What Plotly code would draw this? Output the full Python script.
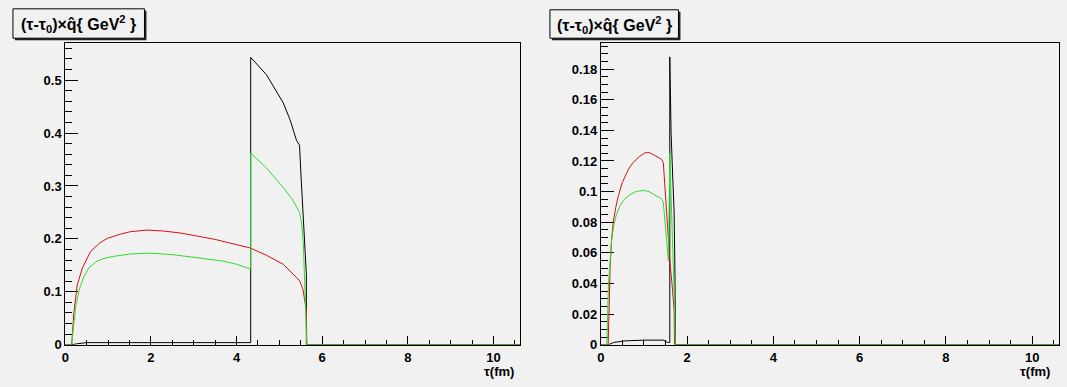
import plotly.graph_objects as go

W, H = 1067, 387

# ---------------- data ----------------
# Left panel
L_black_tau = [0, 0.15, 0.3, 0.5, 1.0, 2.0, 3.0, 4.0, 4.33, 4.33, 4.7, 5.09, 5.25, 5.4, 5.47, 5.51, 5.55, 5.59, 5.63, 5.63, 10.62]
L_black_val = [0, 0, 0.002, 0.004, 0.004, 0.004, 0.004, 0.004, 0.004, 0.543, 0.51, 0.457, 0.425, 0.386, 0.377, 0.312, 0.25, 0.195, 0.133, 0, 0]

L_red_tau = [0, 0.15, 0.2, 0.25, 0.28, 0.4, 0.52, 0.59, 0.8, 0.98, 1.29, 1.52, 1.91, 2.3, 2.7, 3.07, 3.5, 3.85, 4.31, 4.7, 5.09, 5.4, 5.47, 5.55, 5.63, 5.64, 10.62]
L_red_val = [0, 0, 0.06, 0.1, 0.113, 0.145, 0.165, 0.176, 0.192, 0.201, 0.209, 0.2136, 0.2167, 0.2148, 0.211, 0.206, 0.199, 0.192, 0.183, 0.169, 0.152, 0.127, 0.121, 0.105, 0.065, 0, 0]

L_green_tau = [0, 0.15, 0.2, 0.25, 0.33, 0.43, 0.55, 0.74, 0.95, 1.13, 1.52, 1.99, 2.53, 3.07, 3.69, 4.0, 4.33, 4.33, 4.7, 5.09, 5.3, 5.47, 5.52, 5.56, 5.6, 5.64, 10.62]
L_green_val = [0, 0, 0.04, 0.075, 0.105, 0.128, 0.145, 0.158, 0.164, 0.167, 0.1715, 0.173, 0.170, 0.165, 0.158, 0.152, 0.143, 0.362, 0.334, 0.297, 0.275, 0.25, 0.23, 0.19, 0.11, 0, 0]

# Right panel
R_black_tau = [0, 0.18, 0.3, 0.56, 1.0, 1.45, 1.55, 1.6, 1.6, 1.63, 1.67, 1.7, 1.72, 1.73, 10.62]
R_black_val = [0, 0, 0.0015, 0.0025, 0.003, 0.003, 0.0015, 0.0015, 0.188, 0.138, 0.108, 0.087, 0.046, 0, 0]

R_red_tau = [0, 0.17, 0.2, 0.215, 0.25, 0.29, 0.35, 0.41, 0.5, 0.56, 0.65, 0.75, 0.9, 1.02, 1.12, 1.21, 1.3, 1.41, 1.45, 1.5, 1.55, 1.6, 1.65, 1.7, 1.71, 10.62]
R_red_val = [0, 0, 0.03, 0.05, 0.068, 0.08, 0.09, 0.0975, 0.106, 0.110, 0.115, 0.119, 0.123, 0.1253, 0.1255, 0.1243, 0.123, 0.121, 0.119, 0.095, 0.075, 0.055, 0.04, 0.023, 0, 0]

R_green_tau = [0, 0.14, 0.18, 0.25, 0.3, 0.36, 0.45, 0.56, 0.68, 0.79, 0.9, 1.02, 1.12, 1.21, 1.3, 1.41, 1.45, 1.52, 1.57, 1.6, 1.64, 1.67, 1.7, 1.73, 10.62]
R_green_val = [0, 0, 0.040, 0.0676, 0.078, 0.0847, 0.091, 0.0954, 0.098, 0.0997, 0.1005, 0.1007, 0.100, 0.0983, 0.097, 0.0954, 0.093, 0.0697, 0.0548, 0.125, 0.095, 0.061, 0.034, 0, 0]

title_text = "(τ-τ<sub>0</sub>)×q̂{ GeV<sup>2</sup> }"
x_title = "τ(fm)"

# ---------------- styling ----------------
BG = "#f1f1f1"
BLACK = "#000000"
RED = "#d41010"
GREEN = "#2edc2e"
FONT = "Liberation Sans"


def px(x):
    return x / W


def py(y):
    return 1 - y / H


fig = go.Figure()

series = [
    ("x", "y", L_black_tau, L_black_val, BLACK),
    ("x", "y", L_red_tau, L_red_val, RED),
    ("x", "y", L_green_tau, L_green_val, GREEN),
    ("x2", "y2", R_black_tau, R_black_val, BLACK),
    ("x2", "y2", R_red_tau, R_red_val, RED),
    ("x2", "y2", R_green_tau, R_green_val, GREEN),
]
for xa, ya, xs, ys, c in series:
    fig.add_trace(go.Scatter(x=xs, y=ys, xaxis=xa, yaxis=ya, mode="lines",
                             line=dict(color=c, width=1), showlegend=False,
                             hoverinfo="skip"))

tickfont = dict(family=FONT, size=13, color="black", weight="bold")


def xaxis(dom, anchor):
    return dict(domain=dom, anchor=anchor, range=[0, 10.62], dtick=2, tick0=0,
                ticks="inside", ticklen=9, tickcolor="black", tickwidth=1,
                minor=dict(dtick=0.5, ticks="inside", ticklen=5, tickcolor="black"),
                showline=True, linecolor="black", linewidth=1, mirror=True,
                showgrid=False, zeroline=False, tickfont=tickfont,
                ticklabelstandoff=1, layer="below traces")


def yaxis(dom, anchor, rng, dt, mdt):
    return dict(domain=dom, anchor=anchor, range=rng, dtick=dt, tick0=0,
                ticks="inside", ticklen=13, tickcolor="black", tickwidth=1,
                minor=dict(dtick=mdt, ticks="inside", ticklen=7, tickcolor="black"),
                showline=True, linecolor="black", linewidth=1, mirror=True,
                showgrid=False, zeroline=False, tickfont=tickfont,
                layer="below traces")


ydom = [py(352), py(44)]
fig.update_layout(
    width=W, height=H,
    margin=dict(l=0, r=0, t=0, b=0),
    paper_bgcolor=BG, plot_bgcolor=BG,
    xaxis=xaxis([px(61.5), px(518)], "y"),
    yaxis=yaxis(ydom, "x", [0, 0.570], 0.1, 0.02),
    xaxis2=xaxis([px(599), px(1059)], "y2"),
    yaxis2=yaxis(ydom, "x2", [0, 0.197], 0.02, 0.005),
)

shapes = []
annotations = []
for (x0, x1, y0, y1) in [(9, 141, 9, 39), (548, 677, 10, 39)]:
    # shadow
    shapes.append(dict(type="rect", xref="paper", yref="paper",
                       x0=px(x0 + 2), x1=px(x1 + 2), y0=py(y1 + 2), y1=py(y0 + 2),
                       line=dict(width=0), fillcolor="#222222", layer="above"))
    shapes.append(dict(type="rect", xref="paper", yref="paper",
                       x0=px(x0), x1=px(x1), y0=py(y1), y1=py(y0),
                       line=dict(color="black", width=1), fillcolor=BG, layer="above"))
    annotations.append(dict(text="<b>" + title_text + "</b>", xref="paper", yref="paper",
                            x=px((x0 + x1) / 2), y=py((y0 + y1) / 2 + 1),
                            xanchor="center", yanchor="middle", showarrow=False,
                            font=dict(family=FONT, size=16, color="black")))

for cx in [497, 1035]:
    annotations.append(dict(text="<b>" + x_title + "</b>", xref="paper", yref="paper",
                            x=px(cx), y=py(379.5), xanchor="center", yanchor="middle",
                            borderpad=0,
                            showarrow=False, font=dict(family=FONT, size=13, color="black")))

fig.update_layout(shapes=shapes, annotations=annotations)

fig.write_html("out.html")
